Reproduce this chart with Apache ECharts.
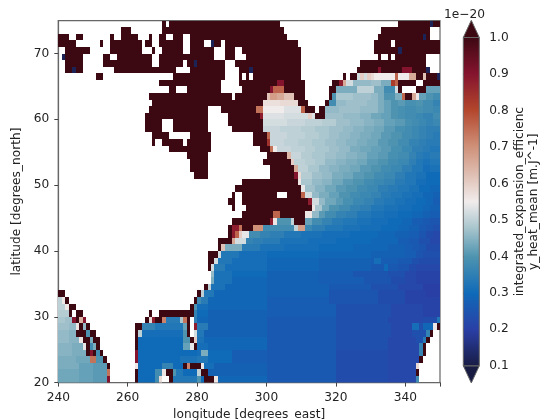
<!DOCTYPE html>
<html><head><meta charset="utf-8">
<style>html,body{margin:0;padding:0;background:#fff}#c{width:542px;height:420px}</style>
<script src="https://cdn.jsdelivr.net/npm/echarts@6/dist/echarts.min.js"></script>
</head><body><div id="c"></div>
<script>
// Each row: "startLon:value" runs (value in 1e-22; D = above colour range, N = near bottom, - = no data)
const northRows = [ // lat 74 .. 60
"270:D 271:- 272:D 304:- 338:D 347:N 348:D",
"258:D 261:- 270:D 305:- 333:D 347:-",
"240:D 243:- 245:D 247:- 255:D 256:- 258:D 263:- 266:D 267:- 269:D 271:- 273:D 276:- 278:D 306:- 332:D 345:N 346:D 347:-",
"240:D 245:- 252:D 253:- 255:D 264:- 265:D 267:- 269:D 276:- 278:D 282:- 284:N 285:D 287:- 288:D 309:- 331:D 336:- 337:D",
"242:D 249:- 255:D 264:- 267:D 268:- 270:D 276:- 278:D 285:- 288:D 291:- 293:D 310:- 331:D 338:N 339:D",
"241:N 242:D 247:- 253:D 255:- 257:D 267:- 269:D 285:- 288:D 291:- 294:D 310:- 332:D 333:- 335:D 336:- 337:D 346:-",
"242:D 247:- 253:D 267:- 269:D 276:- 277:D 279:N 280:D 288:- 291:D 310:- 327:D 346:-",
"242:D 244:N 245:D 247:- 256:D 274:- 278:D 288:- 292:D 295:N 296:D 310:- 326:D 332:90 333:D 339:90 342:D 346:N 347:-",
"251:D 253:- 273:D 288:- 292:D 293:- 294:D 295:- 296:D 310:- 322:D 323:- 324:D 326:52 327:60 328:52 329:60 330:58 331:55 337:76 338:55 341:66 343:D 345:62 346:D 349:N",
"269:D 287:- 292:D 303:90 305:D 311:- 319:D 321:88 322:66 323:52 325:46 330:47 333:44 336:82 337:76 338:D 343:- 345:D",
"272:D 274:- 277:D 287:- 293:D 301:90 302:76 305:D 311:- 318:D 320:44 326:50 331:44 334:38 337:52 338:D 339:- 343:D 346:42",
"266:D 290:- 291:D 300:62 301:68 303:66 305:62 308:D 311:- 318:D 319:40 320:48 325:47 330:46 332:44 334:40 337:44 339:76 340:D 342:66 343:56 344:42 346:40 348:38",
"267:D 299:57 304:58 309:D 312:- 317:D 318:38 320:46 323:47 329:46 332:44 334:42 336:40 338:41 340:39 343:40 345:38 348:36",
"266:D 283:- 287:D 297:74 299:55 305:53 310:76 311:D 314:- 315:D 317:46 321:47 327:46 332:44 334:42 336:40 338:39 340:38 343:39 345:38 348:37",
"265:D 283:- 289:D 298:88 299:53 305:52 312:60 313:53 314:D 317:47 322:46 327:45 330:43 333:42 336:40 338:39 340:38 343:37 345:36 348:38"
];
const midRows = [ // lat 59 .. 41
"265:D 270:- 273:D 283:- 289:D 299:52 306:51 311:50 316:49 320:47 324:46 328:45 331:44 334:42 337:41 340:39 342:38 344:37 346:36 348:37",
"265:D 270:- 273:D 283:- 290:D 299:51 304:50 310:49 314:48 318:47 322:46 325:45 328:44 331:43 334:41 337:39 340:38 342:37 344:36 346:35",
"267:D 272:- 278:D 284:- 296:D 300:76 301:51 306:50 311:49 315:48 318:47 321:46 324:45 327:44 330:43 333:41 336:40 339:38 342:37 344:36 346:35 348:34",
"267:D 268:- 270:D 276:- 277:D 284:- 296:D 300:84 301:51 305:50 309:49 313:48 317:47 320:46 323:45 326:44 329:43 332:41 335:40 338:38 341:36 344:35 346:34",
"272:D 284:- 298:D 301:74 302:55 303:51 307:50 311:49 314:48 318:47 321:46 324:44 327:43 330:42 333:41 336:39 339:37 342:35 345:34 347:33",
"277:D 283:- 300:D 306:64 307:51 310:49 313:48 317:47 320:46 323:45 326:44 329:42 332:41 335:39 338:38 341:36 343:34 345:33 347:34",
"278:D 283:- 299:D 307:60 308:50 311:49 314:48 317:46 320:45 323:44 326:43 329:41 332:40 335:38 338:37 341:35 343:33 345:32 347:33",
"278:D 283:- 301:D 308:66 309:50 312:48 315:46 318:45 321:44 324:43 327:41 330:40 333:38 336:37 339:35 342:33 345:31 347:32",
"279:D 283:- 301:D 308:90 309:58 310:49 313:47 316:46 319:44 322:43 325:41 328:40 331:38 334:37 337:35 340:33 343:32 346:30",
"293:D 309:56 310:48 313:46 316:45 319:43 322:41 325:40 328:38 331:37 334:36 337:34 340:33 343:31 346:30",
"291:D 310:54 311:47 314:45 317:43 320:41 323:40 326:38 329:37 332:35 335:34 338:33 341:32 344:30 347:29",
"290:D 291:- 293:D 303:- 306:D 310:76 311:52 313:46 315:44 318:42 321:40 324:38 327:37 330:36 333:34 336:33 339:32 342:31 345:29 348:28",
"289:D 291:- 293:D 312:88 313:52 315:46 317:43 320:41 322:39 325:37 328:36 331:34 334:33 337:32 340:31 343:30 346:29 348:27",
"290:D 291:- 294:D 313:56 314:48 316:43 318:40 321:38 324:36 327:35 330:33 334:32 338:31 342:30 345:29 347:28",
"293:D 302:76 304:D 311:56 313:46 315:41 317:38 320:36 323:35 326:33 330:32 334:31 338:30 342:29 345:28 347:27",
"290:D 301:88 302:56 303:40 307:50 308:D 311:42 313:38 316:36 319:34 322:33 326:32 330:31 335:30 339:29 342:27 345:26 347:25",
"289:D 290:88 292:74 293:D 296:70 299:38 308:50 309:68 311:37 313:35 317:33 322:32 327:31 333:30 338:29 341:28 344:26 346:25 348:24",
"289:D 290:88 291:76 292:60 293:54 295:38 298:36 301:35 305:33 310:32 316:31 324:30 332:29 337:28 341:27 344:25 346:23 348:22",
"286:D 290:66 291:52 294:36 296:35 299:34 304:32 312:31 320:30 330:29 338:27 341:26 344:24 347:22"
];
const southRows = [ // lat 40 .. 20
"286:D 287:62 288:44 293:34 298:32 305:31 315:30 325:29 335:28 340:27 342:26 344:25 346:23",
"283:D 286:52 287:33 292:31 300:30 315:29 330:28 340:27 343:25 345:24",
"283:D 285:52 286:33 290:31 300:29 315:28 330:27 331:31 333:27 338:26 342:24 344:23",
"283:D 284:52 285:34 288:31 300:29 315:28 330:26 334:30 335:26 338:25 341:23 343:22",
"284:46 285:32 290:30 300:28 315:27 325:25 335:24 340:22 343:21",
"284:44 285:32 290:29 300:28 315:27 328:25 336:23 340:22 343:21",
"282:D 283:50 284:32 288:29 300:28 318:26 330:24 338:22 345:20",
"240:D 242:- 280:D 281:50 282:33 285:29 300:28 318:25 332:23 340:21 346:20",
"240:50 241:56 242:D 243:- 279:D 280:38 281:34 283:29 300:27 318:25 332:23 340:21",
"240:50 242:56 243:D 245:- 278:D 279:40 280:31 283:29 300:27 320:24 336:22 345:21",
"240:49 243:D 244:- 245:D 247:- 266:D 267:- 269:D 278:D 279:36 280:30 283:28 300:27 320:24 336:22 345:21",
"240:48 242:47 244:90 245:D 246:64 247:90 248:- 265:D 266:58 267:88 268:D 270:72 271:34 275:48 276:74 277:D 278:- 279:35 280:29 283:28 300:26 320:24 335:22 345:23 349:33",
"240:47 243:46 245:56 246:D 247:46 248:D 249:- 262:D 264:36 268:33 276:42 277:D 278:- 279:88 280:34 283:28 300:26 320:24 336:22 342:31 344:24 345:29 348:56 349:D",
"240:46 243:45 245:D 248:40 249:D 251:- 262:D 263:50 264:31 276:40 277:D 278:- 279:52 280:33 282:28 300:26 320:24 336:22 342:24 346:36 347:D 348:-",
"240:46 243:45 246:56 247:D 249:44 250:D 252:- 262:D 263:30 276:40 278:D 279:60 280:32 282:29 300:26 320:24 335:22 343:24 345:34 346:D 347:-",
"240:45 244:44 247:54 248:D 249:38 250:44 251:D 252:- 262:D 263:30 276:42 278:54 279:D 280:31 283:29 300:26 320:24 335:22 344:36 345:D 346:-",
"240:45 244:44 248:D 249:90 250:D 251:38 252:D 253:- 262:90 263:30 280:31 281:44 283:30 290:27 300:26 320:23 335:22 344:36 345:D 346:-",
"240:44 245:43 249:74 251:40 253:D 254:- 262:90 263:30 275:32 280:33 283:30 290:27 300:26 320:23 335:22 344:D 345:-",
"240:44 246:42 250:41 254:D 255:- 262:56 263:30 270:36 273:30 276:D 277:72 278:D 281:54 282:31 285:28 300:26 320:23 335:22 343:58 344:-",
"240:43 246:42 250:41 254:74 255:- 262:D 263:30 268:38 270:56 271:D 273:40 274:33 276:30 280:50 281:D 283:28 300:26 320:23 335:22 343:D 344:-",
"240:43 246:42 250:41 254:90 255:- 262:D 263:30 268:38 269:58 270:- 272:D 273:33 280:40 281:30 282:D 285:56 286:29 300:26 320:23 335:22 343:38 344:-"
];
const xTicks = [240, 260, 280, 300, 320, 340];
const yTicks = [20, 30, 40, 50, 60, 70];
const xLabel = "longitude [degrees_east]";
const yLabel = "latitude [degrees_north]";
const cbLabel = "integrated_expansion_efficienc\ny_heat_mean [m.J^-1]";
const cbScale = "1e\u221220";
const cbMin = 0.1, cbMax = 1.0;
const balanceStops = ["#181c43","#2a3fa6","#0f6ab8","#4e94b0","#a8c5cd","#f1ecec","#dfc0b4","#cf8f77","#b2452c","#84132e","#3c0912"];
const balancePos   = [0,0.111,0.222,0.333,0.42,0.5,0.58,0.67,0.78,0.889,1];

function colourOf(v){
  const t=Math.max(0,Math.min(1,(v-cbMin)/(cbMax-cbMin)));
  let i=0; while(i<balancePos.length-2 && t>balancePos[i+1]) i++;
  const f=(t-balancePos[i])/(balancePos[i+1]-balancePos[i]);
  return echarts.color.lerp(f,[balanceStops[i],balanceStops[i+1]]);
}
const rows = northRows.concat(midRows, southRows);
const cells = [];
rows.forEach(function(row, r){
  const lat = 74 - r;
  const toks = row.split(' ').map(function(t){return t.split(':');});
  toks.forEach(function(t,i){
    const start=+t[0], end=i+1<toks.length?+toks[i+1][0]:350;
    if(t[1]==='-') return;
    const v = t[1]==='D'?1.1:t[1]==='N'?0.12:(+t[1])/100;
    for(let lon=start;lon<end;lon++) cells.push([lon,lat,v]);
  });
});
const axisCol='#666';
const font={color:'#222',fontFamily:'DejaVu Sans',fontSize:12.2};
const chart=echarts.init(document.getElementById('c'),null,{renderer:'canvas'});
chart.setOption({
  animation:false,
  title:{text:cbScale,left:439,top:4,textStyle:{color:'#222',fontFamily:'DejaVu Sans',fontSize:12.2,fontWeight:'normal'}},
  grid:[
    {left:58.3,top:20.6,width:381.7,height:362,show:true,outerBoundsMode:'none',borderColor:axisCol,borderWidth:1.2,backgroundColor:'#fff'},
    {left:463.3,top:37.5,width:16,height:328.3,outerBoundsMode:'none'}
  ],
  xAxis:[
    {type:'value',gridIndex:0,min:240,max:350,interval:20,splitLine:{show:false},
     axisLine:{show:true,lineStyle:{color:axisCol,width:1.2}},axisTick:{show:true,length:4,lineStyle:{color:'#444'}},
     axisLabel:Object.assign({margin:9,customValues:xTicks,formatter:function(v){return String(v);}},font),
     name:xLabel,nameLocation:'middle',nameGap:24,nameTextStyle:font},
    {type:'value',gridIndex:1,min:0,max:1,show:false}
  ],
  yAxis:[
    {type:'value',gridIndex:0,min:20,max:75,splitLine:{show:false},
     axisLine:{show:true,lineStyle:{color:axisCol,width:1.2}},
     axisTick:{show:true,length:4,customValues:yTicks,lineStyle:{color:'#444'}},
     axisLabel:Object.assign({margin:9,customValues:yTicks,formatter:function(v){return String(v);}},font),
     name:yLabel,nameLocation:'middle',nameGap:27,nameTextStyle:font},
    {type:'value',gridIndex:1,position:'right',min:cbMin,max:cbMax,interval:0.1,splitLine:{show:false},
     axisLine:{show:false},axisTick:{show:true,length:4,lineStyle:{color:'#444'}},
     axisLabel:Object.assign({margin:10,formatter:function(v){return v.toFixed(1);}},font),
     name:cbLabel,nameLocation:'middle',nameGap:34,nameRotate:90,nameTextStyle:Object.assign({lineHeight:13.5,align:'center'},font)}
  ],
  series:[
    {type:'custom',xAxisIndex:0,yAxisIndex:0,coordinateSystem:'cartesian2d',data:cells,progressive:0,clip:true,
     encode:{x:0,y:1},silent:true,
     renderItem:function(params,api){
       const lon=api.value(0),lat=api.value(1),c=colourOf(api.value(2));
       const a=api.coord([lon,lat+1]),b=api.coord([lon+1,lat]);
       const x0=Math.round(a[0]),y0=Math.round(a[1]),x1=Math.round(b[0]),y1=Math.round(b[1]);
       return {type:'rect',shape:{x:x0,y:y0,width:x1-x0,height:y1-y0},style:{fill:c}};
     }},
    {type:'custom',xAxisIndex:1,yAxisIndex:1,coordinateSystem:'cartesian2d',data:[[0,cbMin,1,cbMax]],clip:false,silent:true,
     encode:{x:[0,2],y:[1,3]},
     renderItem:function(params,api){
       const a=api.coord([0,cbMax]),b=api.coord([1,cbMin]);
       const over=api.coord([0.5,cbMax+0.047]),under=api.coord([0.5,cbMin-0.047]);
       const stops=balanceStops.map(function(c,i){return {offset:1-balancePos[i],color:c};}).reverse();
       return {type:'group',children:[
         {type:'polygon',shape:{points:[[a[0],a[1]],[over[0],over[1]],[b[0],a[1]]]},style:{fill:balanceStops[10],stroke:'#666',lineWidth:1}},
         {type:'polygon',shape:{points:[[a[0],b[1]],[under[0],under[1]],[b[0],b[1]]]},style:{fill:balanceStops[0],stroke:'#666',lineWidth:1}},
         {type:'rect',shape:{x:a[0],y:a[1],width:b[0]-a[0],height:b[1]-a[1]},
          style:{stroke:'#666',lineWidth:1,fill:new echarts.graphic.LinearGradient(0,0,0,1,stops)}}
       ]};
     }}
  ]
});
</script></body></html>
